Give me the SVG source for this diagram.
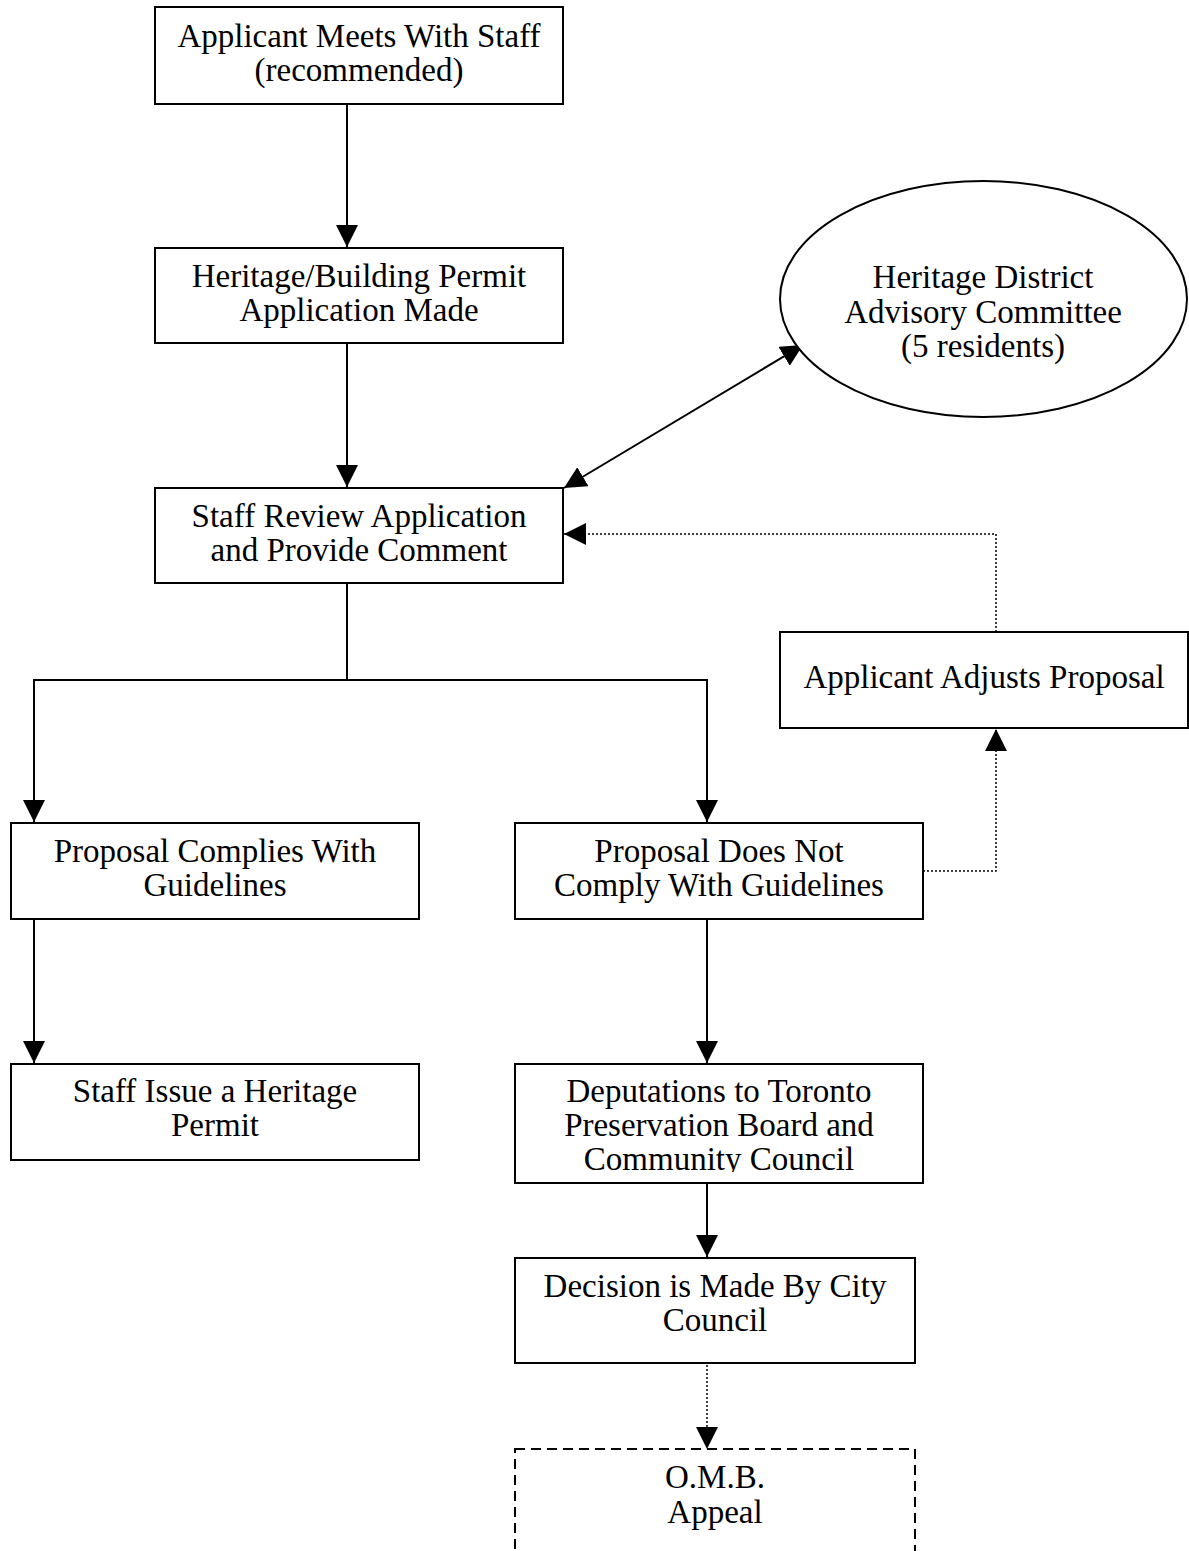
<svg xmlns="http://www.w3.org/2000/svg" width="1189" height="1551" viewBox="0 0 1189 1551">
<style>
  .box { fill: #fff; stroke: #000; stroke-width: 2; }
  .dashbox { fill: #fff; stroke: #000; stroke-width: 2; stroke-dasharray: 10 6; }
  .t { font-family: "Liberation Serif", "Times New Roman", serif; font-size: 33px; fill: #000; text-anchor: middle; }
  .ln { fill: none; stroke: #000; stroke-width: 2; }
  .dot { fill: none; stroke: #000; stroke-width: 1.5; stroke-dasharray: 2 2; }
</style>
<defs>
  <marker id="ah" markerUnits="userSpaceOnUse" markerWidth="22" markerHeight="22" viewBox="0 0 20 20" refX="20" refY="10" orient="auto">
    <path d="M0,0 L20,10 L0,20 z" fill="#000"/>
  </marker>
  <marker id="ahs" markerUnits="userSpaceOnUse" markerWidth="22" markerHeight="22" viewBox="0 0 20 20" refX="0" refY="10" orient="auto">
    <path d="M20,0 L0,10 L20,20 z" fill="#000"/>
  </marker>
  <clipPath id="depclip"><rect x="515" y="1064" width="408" height="108"/></clipPath>
</defs>
<rect width="1189" height="1551" fill="#fff"/>

<g id="connectors">
  <line class="ln" x1="347" y1="104" x2="347" y2="247" marker-end="url(#ah)"/>
  <line class="ln" x1="347" y1="343" x2="347" y2="487" marker-end="url(#ah)"/>
  <line class="ln" x1="564" y1="488" x2="803" y2="345" marker-start="url(#ahs)" marker-end="url(#ah)"/>
  <polyline class="dot" points="996,632 996,534 564,534" marker-end="url(#ah)"/>
  <polyline class="ln" points="347,583 347,680"/>
  <polyline class="ln" points="34,700 34,680 707,680 707,700"/>
  <line class="ln" x1="34" y1="700" x2="34" y2="822" marker-end="url(#ah)"/>
  <line class="ln" x1="707" y1="700" x2="707" y2="822" marker-end="url(#ah)"/>
  <polyline class="dot" points="923,871 996,871 996,729" marker-end="url(#ah)"/>
  <line class="ln" x1="34" y1="917" x2="34" y2="1063" marker-end="url(#ah)"/>
  <line class="ln" x1="707" y1="917" x2="707" y2="1063" marker-end="url(#ah)"/>
  <line class="ln" x1="707" y1="1183" x2="707" y2="1257" marker-end="url(#ah)"/>
  <line class="dot" x1="707" y1="1353" x2="707" y2="1449" marker-end="url(#ah)"/>
</g>

<g id="n1">
  <rect class="box" x="155" y="7" width="408" height="97"/>
  <text class="t" x="359" y="47">Applicant Meets With Staff</text>
  <text class="t" x="359" y="81">(recommended)</text>
</g>
<g id="n2">
  <rect class="box" x="155" y="248" width="408" height="95"/>
  <text class="t" x="359" y="287">Heritage/Building Permit</text>
  <text class="t" x="359" y="321">Application Made</text>
</g>
<g id="n3">
  <rect class="box" x="155" y="488" width="408" height="95"/>
  <text class="t" x="359" y="527">Staff Review Application</text>
  <text class="t" x="359" y="561">and Provide Comment</text>
</g>
<g id="n4">
  <ellipse class="box" cx="983.5" cy="299" rx="203.5" ry="118"/>
  <text class="t" x="983" y="288">Heritage District</text>
  <text class="t" x="983" y="323">Advisory Committee</text>
  <text class="t" x="983" y="357">(5 residents)</text>
</g>
<g id="n5">
  <rect class="box" x="780" y="632" width="408" height="96"/>
  <text class="t" x="984" y="688">Applicant Adjusts Proposal</text>
</g>
<g id="n6">
  <rect class="box" x="11" y="823" width="408" height="96"/>
  <text class="t" x="215" y="862">Proposal Complies With</text>
  <text class="t" x="215" y="896">Guidelines</text>
</g>
<g id="n7">
  <rect class="box" x="515" y="823" width="408" height="96"/>
  <text class="t" x="719" y="862">Proposal Does Not</text>
  <text class="t" x="719" y="896">Comply With Guidelines</text>
</g>
<g id="n8">
  <rect class="box" x="11" y="1064" width="408" height="96"/>
  <text class="t" x="215" y="1102">Staff Issue a Heritage</text>
  <text class="t" x="215" y="1136">Permit</text>
</g>
<g id="n9">
  <rect class="box" x="515" y="1064" width="408" height="119"/>
  <g clip-path="url(#depclip)">
    <text class="t" x="719" y="1102">Deputations to Toronto</text>
    <text class="t" x="719" y="1136">Preservation Board and</text>
    <text class="t" x="719" y="1170">Community Council</text>
  </g>
</g>
<g id="n10">
  <rect class="box" x="515" y="1258" width="400" height="105"/>
  <text class="t" x="715" y="1297">Decision is Made By City</text>
  <text class="t" x="715" y="1331">Council</text>
</g>
<g id="n11">
  <rect class="dashbox" x="515" y="1449" width="400" height="130"/>
  <text class="t" x="715" y="1488">O.M.B.</text>
  <text class="t" x="715" y="1523">Appeal</text>
</g>
</svg>
